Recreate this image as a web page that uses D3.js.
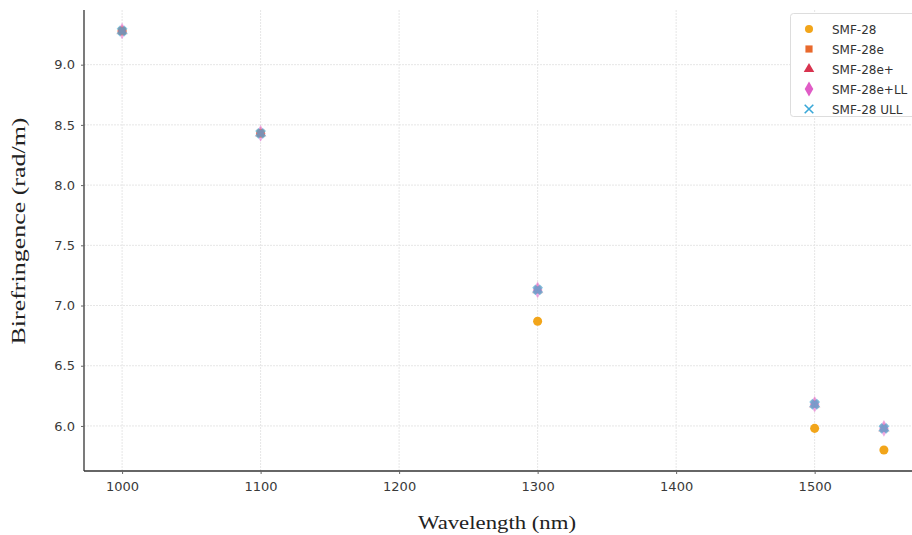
<!DOCTYPE html>
<html><head><meta charset="utf-8">
<script src="https://cdn.jsdelivr.net/npm/d3@7"></script>
<style>body{margin:0;background:#fff}svg{display:block}</style>
</head><body><svg id="c" width="912" height="535"></svg>
<script>
const wavelengths = [1000, 1100, 1300, 1500, 1550];
const smf28 = [9.28, 8.43, 6.87, 5.98, 5.80];
const smf28e = [9.28, 8.43, 7.13, 6.18, 5.98];
const smf28ePlus = [9.28, 8.43, 7.13, 6.18, 5.98];
const smf28eLL = [9.28, 8.43, 7.13, 6.18, 5.98];
const smf28ULL = [9.28, 8.43, 7.13, 6.18, 5.98];
const seriesNames = ["SMF-28", "SMF-28e", "SMF-28e+", "SMF-28e+LL", "SMF-28 ULL"];
const xTicks = [1000, 1100, 1200, 1300, 1400, 1500];
const yTicks = [6.0, 6.5, 7.0, 7.5, 8.0, 8.5, 9.0];

(function () {
const series = [
  {name: seriesNames[0], values: smf28, color: "#f2a51a", symbol: d3.symbolCircle, size: 64, op: 1},
  {name: seriesNames[1], values: smf28e, color: "#e8692c", symbol: d3.symbolSquare, size: 64, op: 0.3},
  {name: seriesNames[2], values: smf28ePlus, color: "#d8334f", symbol: d3.symbolTriangle, size: 60, op: 0.25},
  {name: seriesNames[3], values: smf28eLL, color: "#e05cc6", symbol: d3.symbolDiamond, size: 80, op: 0.5},
  {name: seriesNames[4], values: smf28ULL, color: "#3aa8d8", symbol: d3.symbolX, size: 40, op: 0.62, stroke: true, sw: 4.5}
];

const svg = d3.select("#c");
const mLeft = 84, mTop = 10, mBottom = 471, mRight = 922;
const x = d3.scaleLinear().domain([972.5, 1577.5]).range([mLeft, mRight]);
const y = d3.scaleLinear().domain([5.626, 9.454]).range([mBottom, mTop]);

const g = svg.append("g");
g.selectAll("line.gx").data(xTicks).join("line")
  .attr("x1", d => x(d)).attr("x2", d => x(d)).attr("y1", mTop).attr("y2", mBottom)
  .attr("stroke", "#e6e6e6").attr("stroke-width", 1).attr("stroke-dasharray", "2,1");
g.selectAll("line.gy").data(yTicks).join("line")
  .attr("y1", d => y(d)).attr("y2", d => y(d)).attr("x1", mLeft).attr("x2", 912)
  .attr("stroke", "#e6e6e6").attr("stroke-width", 1).attr("stroke-dasharray", "2,1");

const xAxis = d3.axisBottom(x).tickValues(xTicks).tickFormat(d3.format("d")).tickSize(3).tickPadding(8);
const yAxis = d3.axisLeft(y).tickValues(yTicks).tickFormat(d3.format(".1f")).tickSize(3).tickPadding(6);
const gx = svg.append("g").attr("transform", `translate(0,${mBottom})`).call(xAxis);
const gy = svg.append("g").attr("transform", `translate(${mLeft},0)`).call(yAxis);
[gx, gy].forEach(a => {
  a.select(".domain").attr("stroke", "#333").attr("stroke-width", 1.3);
  a.selectAll(".tick line").attr("stroke", "#666");
  a.selectAll(".tick text").attr("fill", "#3a3a3a").style("font-family", "'DejaVu Sans', sans-serif").style("font-size", "13px");
});
gy.select(".domain").attr("d", `M0,${mBottom}V${mTop}`);
gx.select(".domain").attr("d", `M${mLeft},0H912`);

series.forEach(s => {
  const sym = d3.symbol().type(s.symbol).size(s.size);
  svg.append("g").selectAll("path").data(wavelengths.map((w, i) => [w, s.values[i]])).join("path")
    .attr("transform", d => `translate(${x(d[0])},${y(d[1])})`)
    .attr("d", sym)
    .attr("fill", s.stroke ? "none" : s.color)
    .attr("stroke", s.stroke ? s.color : "none")
    .attr("stroke-width", s.stroke ? s.sw : 0)
    .attr("opacity", s.op);
});

svg.append("text").attr("x", 497).attr("y", 529).attr("text-anchor", "middle")
  .attr("textLength", 158).attr("lengthAdjust", "spacingAndGlyphs")
  .style("font-family", "'Liberation Serif', 'Times New Roman', serif").style("font-size", "18px").attr("fill", "#222")
  .text("Wavelength (nm)");
svg.append("text").attr("transform", "translate(25,231) rotate(-90)").attr("text-anchor", "middle")
  .attr("textLength", 227).attr("lengthAdjust", "spacingAndGlyphs")
  .style("font-family", "'Liberation Serif', 'Times New Roman', serif").style("font-size", "18px").attr("fill", "#222")
  .text("Birefringence (rad/m)");

const lg = svg.append("g");
lg.append("rect").attr("x", 790.5).attr("y", 13.5).attr("width", 130).attr("height", 103).attr("rx", 3)
  .attr("fill", "#fff").attr("stroke", "#ddd");
series.forEach((s, i) => {
  const yy = 29 + i * 20;
  const sym = d3.symbol().type(s.symbol).size(s.stroke ? 50 : s.size * 0.8);
  lg.append("path").attr("transform", `translate(809,${yy})`).attr("d", sym)
    .attr("fill", s.stroke ? "none" : s.color)
    .attr("stroke", s.stroke ? s.color : "none").attr("stroke-width", s.stroke ? 1.6 : 0);
  lg.append("text").attr("x", 832).attr("y", yy + 4.5).text(s.name)
    .style("font-family", "'DejaVu Sans', sans-serif").style("font-size", "12px").attr("fill", "#333");
});
})();
</script></body></html>
